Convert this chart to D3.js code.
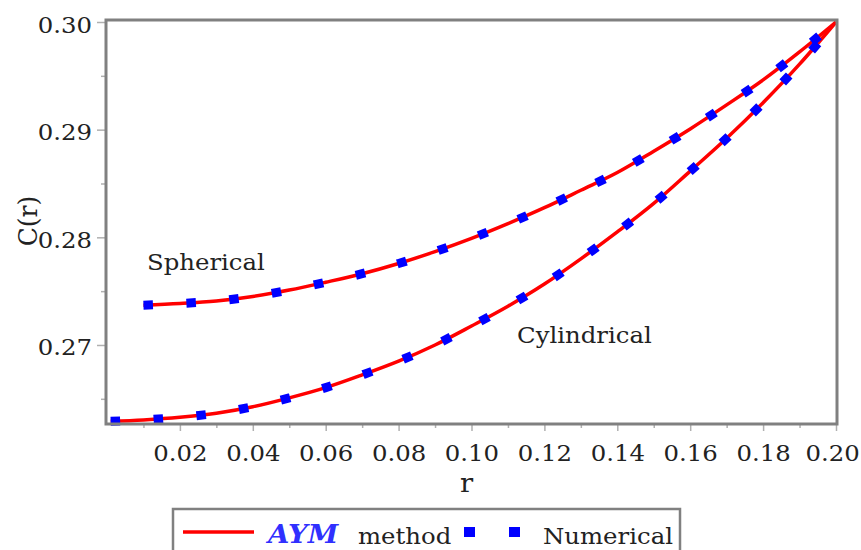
<!DOCTYPE html>
<html>
<head>
<meta charset="utf-8">
<script src="https://cdn.jsdelivr.net/npm/d3@7"></script>
<style>
html,body{margin:0;padding:0;background:#fff;}
svg{display:block;}
svg text{font-family:"DejaVu Serif","Liberation Serif",serif;}
</style>
</head>
<body>
<svg id="chart" width="861" height="550"></svg>
<script>
// ---- data ----
const rSpherical = [0.01,0.02,0.03,0.04,0.05,0.06,0.07,0.08,0.09,0.10,0.11,0.12,0.13,0.14,0.15,0.16,0.17,0.18,0.19,0.20];
const cSpherical = [0.27370,0.27385,0.27408,0.27450,0.27510,0.27583,0.27662,0.27757,0.27867,0.27990,0.28127,0.28275,0.28437,0.28602,0.28800,0.29007,0.29230,0.29462,0.29722,0.30000];
const rCylindrical = [0.001,0.01,0.02,0.03,0.04,0.05,0.06,0.07,0.08,0.09,0.10,0.11,0.12,0.13,0.14,0.15,0.16,0.17,0.18,0.19,0.20];
const cCylindrical = [0.26291,0.26304,0.26328,0.26366,0.26426,0.26509,0.26604,0.26722,0.26850,0.27000,0.27176,0.27360,0.27566,0.27800,0.28050,0.28315,0.28615,0.28920,0.29250,0.29608,0.30000];
const xTicks = [0.02,0.04,0.06,0.08,0.10,0.12,0.14,0.16,0.18,0.20];
const xMinorTicks = [0.01,0.03,0.05,0.07,0.09,0.11,0.13,0.15,0.17,0.19];
const yTicks = [0.27,0.28,0.29,0.30];
const yMinorTicks = [0.265,0.275,0.285,0.295];
const curveLabels = ["Spherical","Cylindrical"];
const legendLabels = ["AYM","method","Numerical"];

const svg = d3.select("#chart");
const SX = 1.06; // slight horizontal stretch of the reference's lettering
const font = "DejaVu Serif";
const FS = 23;

const x = d3.scaleLinear().domain([0, 0.2]).range([107, 836]);
const y = d3.scaleLinear().domain([0.26266, 0.30]).range([424, 22]);

// axes (ticks outside the frame)
const gx = svg.append("g").attr("transform","translate(0,424)");
gx.call(d3.axisBottom(x).tickValues(xMinorTicks).tickSize(4).tickFormat(""));
const gx2 = svg.append("g").attr("transform","translate(0,424)");
gx2.call(d3.axisBottom(x).tickValues(xTicks).tickSize(7).tickFormat(d3.format(".2f")));
const gy = svg.append("g").attr("transform","translate(106,0)");
gy.call(d3.axisLeft(y).tickValues(yMinorTicks).tickSize(5).tickFormat(""));
const gy2 = svg.append("g").attr("transform","translate(106,0)");
gy2.call(d3.axisLeft(y).tickValues(yTicks).tickSize(9).tickFormat(d3.format(".2f")));

svg.selectAll("g").attr("font-family", font);
svg.selectAll(".domain").remove();
svg.selectAll(".tick line").attr("stroke","#b0b0b0").attr("stroke-width",1.5);
gx2.selectAll(".tick text")
  .attr("y",37).attr("dy",0)
  .attr("x", (d,i,n)=> i === n.length-1 ? -4/SX : 0)
  .attr("transform",`scale(${SX},1)`)
  .attr("font-family",font).attr("font-size",FS).attr("fill","#222");
gy2.selectAll(".tick text")
  .attr("x",-14/SX).attr("dy",0).attr("y",10)
  .attr("transform",`scale(${SX},1)`)
  .attr("font-family",font).attr("font-size",FS).attr("fill","#222");

// curves
const line = d3.line().x(d=>x(d[0])).y(d=>y(d[1])).curve(d3.curveMonotoneX);
const sph = rSpherical.map((r,i)=>[r,cSpherical[i]]);
const cyl = rCylindrical.map((r,i)=>[r,cCylindrical[i]]);

[sph, cyl].forEach(data=>{
  svg.append("path").attr("d",line(data)).attr("fill","none")
    .attr("stroke","#ff0000").attr("stroke-width",3.5);
});
[sph, cyl].forEach(data=>{
  svg.append("path").attr("d",line(data)).attr("fill","none")
    .attr("stroke","#0000ff").attr("stroke-width",9)
    .attr("stroke-dasharray","9.5,33.5");
});

// frame
svg.append("rect").attr("x",106).attr("y",20).attr("width",731).attr("height",404)
  .attr("fill","none").attr("stroke","#808080").attr("stroke-width",3);

// text helper
function stretchedText(tx, ty, str, size, extra){
  return svg.append("text")
    .attr("transform",`translate(${tx},${ty}) scale(${SX},1)` + (extra||""))
    .attr("font-family",font).attr("font-size",size).attr("fill","#222")
    .text(str);
}
stretchedText(147, 270, curveLabels[0], FS);
stretchedText(517, 343, curveLabels[1], FS);

// axis titles
stretchedText(460, 492, "r", 26);
stretchedText(37, 221, "C(r)", 25, " rotate(-90)").attr("text-anchor","middle");

// legend
svg.append("rect").attr("x",173).attr("y",509).attr("width",507).attr("height",60)
  .attr("fill","#fff").attr("stroke","#808080").attr("stroke-width",2.5);
svg.append("line").attr("x1",183).attr("x2",254).attr("y1",532).attr("y2",532)
  .attr("stroke","#ff0000").attr("stroke-width",3.5);
svg.append("text")
  .attr("transform",`translate(268,543) scale(${SX},1)`)
  .attr("font-family",font).attr("font-size",26)
  .attr("font-style","italic").attr("font-weight","bold")
  .attr("fill","#3030ff").text(legendLabels[0]);
stretchedText(358, 544, legendLabels[1], FS);
svg.append("line").attr("x1",464).attr("x2",520).attr("y1",532).attr("y2",532)
  .attr("stroke","#0000ff").attr("stroke-width",10)
  .attr("stroke-dasharray","11,34");
stretchedText(543, 544, legendLabels[2], FS);
</script>
</body>
</html>
